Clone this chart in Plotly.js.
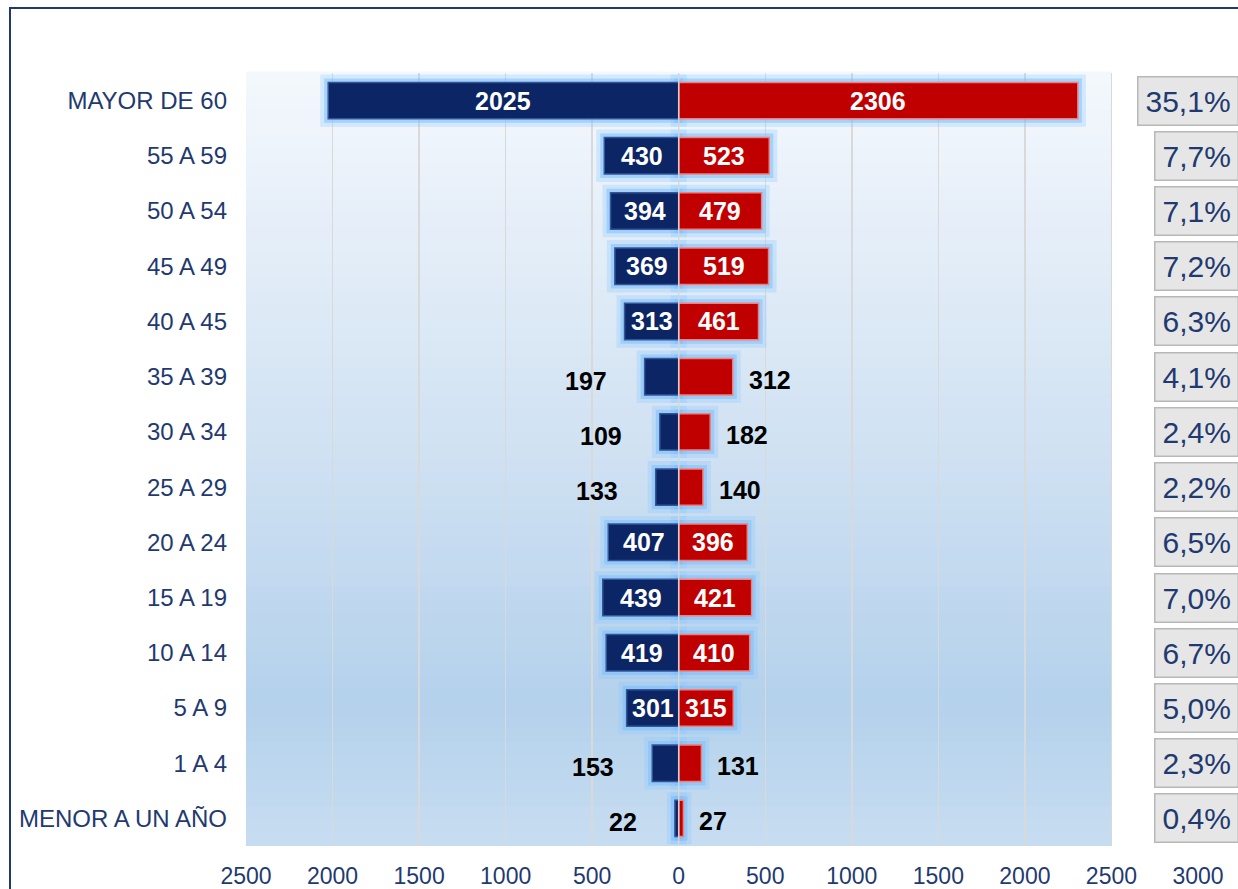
<!DOCTYPE html>
<html>
<head>
<meta charset="utf-8">
<script src="https://cdn.plot.ly/plotly-3.0.1.min.js"></script>
<style>
  body { margin: 0; overflow: hidden; background: #fff; }
  #myPlot { position: absolute; left: 0; top: 0; width: 1238px; height: 889px; }
  #frame { position: absolute; left: 9px; top: 7px; width: 1400px; height: 1000px;
           border: 2px solid #1f3a70; pointer-events: none; }
</style>
</head>
<body>
<div id="myPlot"></div>
<div id="frame"></div>
<script>
// age groups, top to bottom
var grupos = ["MAYOR DE 60", "55 A 59", "50 A 54", "45 A 49", "40 A 45", "35 A 39", "30 A 34",
  "25 A 29", "20 A 24", "15 A 19", "10 A 14", "5 A 9", "1 A 4", "MENOR A UN AÑO"];
var hombres = [2025, 430, 394, 369, 313, 197, 109, 133, 407, 439, 419, 301, 153, 22];
var mujeres = [2306, 523, 479, 519, 461, 312, 182, 140, 396, 421, 410, 315, 131, 27];
var porcentajes = ["35,1%", "7,7%", "7,1%", "7,2%", "6,3%", "4,1%", "2,4%", "2,2%",
  "6,5%", "7,0%", "6,7%", "5,0%", "2,3%", "0,4%"];
// rows whose numbers sit outside the bars
var fuera = ["35 A 39", "30 A 34", "25 A 29", "1 A 4", "MENOR A UN AÑO"];

var tickVals = [-2500, -2000, -1500, -1000, -500, 0, 500, 1000, 1500, 2000, 2500, 3000];
var tickText = ["2500", "2000", "1500", "1000", "500", "0", "500", "1000", "1500", "2000", "2500", "3000"];

var azul = "#0b2565";
var rojo = "#c00000";
var navy = "#1f3a70";
var fuente = "Liberation Sans, Arial, sans-serif";

var neg = hombres.map(function(v){ return -v; });

function barra(xs, color, lineColor, lineWidth){
  return {type: "bar", orientation: "h", y: grupos, x: xs, width: 0.66,
    marker: {color: color, line: {color: lineColor, width: lineWidth}}, hoverinfo: "skip"};
}

var data = [
  // soft glow, two passes
  barra(neg, "rgba(0,0,0,0)", "rgba(140,200,255,0.3)", 16),
  barra(mujeres, "rgba(0,0,0,0)", "rgba(140,200,255,0.3)", 16),
  barra(neg, "rgba(0,0,0,0)", "rgba(120,190,250,0.5)", 8),
  barra(mujeres, "rgba(0,0,0,0)", "rgba(120,190,250,0.5)", 8),
  barra(neg, azul, "#33569a", 1.5),
  barra(mujeres, rojo, "#ef8080", 1.5)
];

// background gradient bands (light at top, deeper blue near bottom)
var stops = [[0, [244, 248, 253]], [0.45, [211, 227, 243]], [0.82, [180, 209, 236]], [1, [199, 221, 241]]];
function colAt(t){
  for (var k = 1; k < stops.length; k++){
    if (t <= stops[k][0]){
      var a = stops[k-1], b = stops[k];
      var f = (t - a[0]) / (b[0] - a[0]);
      var c = a[1].map(function(v, j){ return Math.round(v + (b[1][j] - v) * f); });
      return "rgb(" + c.join(",") + ")";
    }
  }
  return "rgb(199,221,241)";
}
var shapes = [];
var nb = 60;
for (var b = 0; b < nb; b++){
  shapes.push({type: "rect", layer: "below", xref: "x", yref: "paper",
    x0: -2500, x1: 2500, y0: 1 - (b + 1) / nb, y1: 1 - b / nb + 0.002,
    fillcolor: colAt((b + 0.5) / nb), line: {width: 0}});
}
shapes.push({type: "line", layer: "above", xref: "x", yref: "paper", x0: 0, x1: 0, y0: 0, y1: 1,
  line: {color: "rgba(215,215,215,0.9)", width: 1.5}});

var annotations = [];
for (var i = 0; i < grupos.length; i++){
  var out = fuera.indexOf(grupos[i]) >= 0;
  if (out){
    annotations.push({x: -hombres[i], y: grupos[i], xref: "x", yref: "y", text: String(hombres[i]),
      showarrow: false, xanchor: "right", xshift: -36, yshift: -4,
      font: {family: fuente, size: 25, color: "#000000", weight: "bold"}});
    annotations.push({x: mujeres[i], y: grupos[i], xref: "x", yref: "y", text: String(mujeres[i]),
      showarrow: false, xanchor: "left", xshift: 14, yshift: -3,
      font: {family: fuente, size: 25, color: "#000000", weight: "bold"}});
  } else {
    annotations.push({x: -hombres[i] / 2, y: grupos[i], xref: "x", yref: "y", text: String(hombres[i]),
      showarrow: false, font: {family: fuente, size: 25, color: "#ffffff", weight: "bold"}});
    annotations.push({x: mujeres[i] / 2, y: grupos[i], xref: "x", yref: "y", text: String(mujeres[i]),
      showarrow: false, font: {family: fuente, size: 25, color: "#ffffff", weight: "bold"}});
  }
  annotations.push({x: 1.043, y: grupos[i], xref: "paper", yref: "y", text: porcentajes[i],
    showarrow: false, xanchor: "right", bgcolor: "#e6e6e6", bordercolor: "#b8b8b8",
    borderwidth: 1.5, borderpad: 7, font: {family: fuente, size: 30, color: navy}});
}

var layout = {
  width: 1238, height: 889,
  margin: {l: 246, r: 40, t: 73, b: 43},
  paper_bgcolor: "#ffffff", plot_bgcolor: "rgba(0,0,0,0)",
  barmode: "overlay", showlegend: false,
  font: {family: fuente},
  xaxis: {range: [-2500, 3000], tickvals: tickVals, ticktext: tickText,
    showgrid: true, gridcolor: "#d9d9d9", gridwidth: 1.5, zeroline: false,
    showline: false, ticks: "", ticklabelstandoff: 14,
    tickfont: {family: fuente, size: 23, color: navy}, fixedrange: true},
  yaxis: {type: "category", categoryorder: "array", categoryarray: grupos, autorange: "reversed",
    showgrid: false, zeroline: false, showline: false, ticks: "", ticklabelstandoff: 18,
    tickfont: {family: fuente, size: 24, color: navy}, fixedrange: true},
  shapes: shapes,
  annotations: annotations
};

Plotly.newPlot("myPlot", data, layout, {displayModeBar: false, staticPlot: true});
</script>
</body>
</html>
